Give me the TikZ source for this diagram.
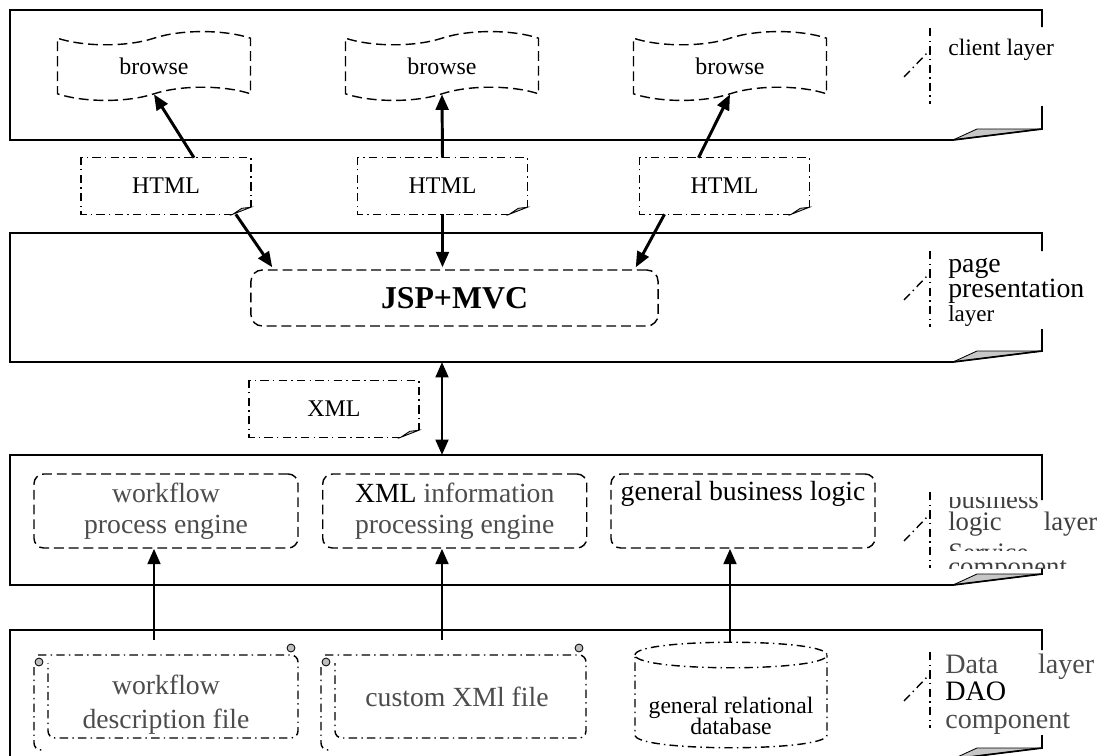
\documentclass[tikz,border=0pt]{standalone}
\usepackage{fontspec}
\setmainfont{Liberation Serif}
\usetikzlibrary{calc,arrows.meta,shapes.symbols}

\begin{document}
\begin{tikzpicture}[x=0.025cm, y=-0.025cm,
    layerline/.style={line width=1.2pt},
    foldfill/.style={fill=black!22, line width=0.6pt},
    dashedbox/.style={draw, line width=1pt, dash pattern=on 7pt off 3.5pt},
    dd/.style={line width=1pt, dash pattern=on 6pt off 3pt on 1pt off 3pt},
    browsebox/.style={tape, dashedbox, minimum width=4.825cm, minimum height=1.72cm,
      tape bend height=0.33cm, font=\fontsize{17}{19}\selectfont},
    notebox/.style={minimum width=4.225cm, minimum height=1.4cm, font=\fontsize{17}{19}\selectfont},
    enginebox/.style={dashedbox, rounded corners=7pt, minimum width=6.6cm, minimum height=1.85cm,
      align=center, font=\fontsize{19.7}{22}\selectfont},
    filetext/.style={align=center, font=\fontsize{19.7}{24}\selectfont, text=black!70},
    flow/.style={line width=2.1pt, -{Triangle[length=11pt,width=9pt]}},
    curl/.style={fill=black!25, draw, line width=0.6pt},
    lbl/.style={anchor=base west, inner sep=0pt},
  ]
  \useasboundingbox (0,0) rectangle (1105,756);
  \clip (0,0) rectangle (1105,756);

  % layers with the folded corner
  \foreach \yt/\yb/\ga/\gb in {10/140/27/106, 233/362/251/329, 455/585/500/568, 630/759/650/735}{
    \filldraw[foldfill] (953,\yb) -- (977,\yb-11) -- (1042,\yb-11) -- cycle;
    \draw[layerline] (1042,\ga) -- (1042,\yt) -- (10,\yt) -- (10,\yb) -- (953,\yb) -- (1042,\yb-11) -- (1042,\gb);
  }
  % callout brackets
  \foreach \m in {66,289,530,690}{
    \draw[dd] (930,\m-38) -- (930,\m+38);
    \draw[dd] (904,\m+11) -- (930,\m-16);
  }

  % client layer
  \node[browsebox] (b1) at (154,66) {browse};
  \node[browsebox] (b2) at (442,66) {browse};
  \node[browsebox] (b3) at (730,66) {browse};
  \node[lbl, font=\fontsize{16.8}{19}\selectfont] (lclient) at (948,55) {client layer};

  % messages
  \node[notebox] (h1) at (166,186) {HTML};
  \node[notebox] (h2) at (442.5,186) {HTML};
  \node[notebox] (h3) at (724.5,186) {HTML};
  \node[notebox] (xmsg) at (334,409) {XML};
  \foreach \n in {h1,h2,h3,xmsg}{
    \draw[dd] ($(\n.south east)+(-18,0)$) -- (\n.south west) -- (\n.north west) -- (\n.north east) -- ($(\n.south east)+(0,-7)$);
    \filldraw[curl] ($(\n.south east)+(-18,0)$) -- ($(\n.south east)+(-9,-6)$) -- ($(\n.south east)+(0,-7)$) -- cycle;
  }

  % page presentation layer
  \node[dashedbox, rounded corners=8pt, minimum width=10.175cm, minimum height=1.4cm,
    font=\fontsize{22.6}{26}\selectfont\bfseries] (jsp) at (454.5,298) {JSP+MVC};
  \node[lbl, text width=4cm, align=left, font=\fontsize{19.8}{16.7}\selectfont] (lpage) at (948,272)
    {page\\presentation\\{\fontsize{16.4}{16.7}\selectfont layer}};

  % business logic layer
  \node[enginebox, text=black!70] (wpe) at (166,511) {workflow\\process engine};
  \node[enginebox, text=black!70] (xpe) at (454.75,511) {\textcolor{black}{XML} information\\processing engine};
  \node[enginebox] (gbl) at (743,511) {general business logic\\\strut};
  \begin{scope}
    \clip (944,497) rectangle (1105,550);
    \node[lbl, text width=3.725cm, align=left, font=\fontsize{19}{15.65}\selectfont, text=black!75] (lbiz) at (948,508)
      {business\\logic\hfill layer\\[5pt]Service};
  \end{scope}
  \begin{scope}
    \clip (944,556) rectangle (1105,568);
    \node[lbl, font=\fontsize{19}{22}\selectfont, text=black!75] (lcomp) at (948,575) {component};
  \end{scope}

  % data layer
  \node[filetext] (wfd) at (166,705) {workflow\\description file};
  \node[filetext] (cxf) at (457,697) {custom XMl file};
  \foreach \xa/\xb in {48/298, 335/586}{
    \draw[dd, rounded corners=5pt] (\xa-10,655) -- (\xb,655) -- (\xb,738) -- (\xa,738) -- (\xa,663);
    \draw[dd, rounded corners=5pt] (\xa-14,667) -- (\xa-14,750) -- (\xa-3,750);
    \filldraw[curl] (\xb-7,648) circle (2.8pt);
    \filldraw[curl] (\xa-9,662) circle (2.8pt);
  }
  \draw[dd] (635,655) .. controls (635,638) and (827,638) .. (827,655)
    .. controls (827,672) and (635,672) .. (635,655) -- (635,735)
    .. controls (635,752) and (827,752) .. (827,735) -- (827,655);
  \node[align=center, font=\fontsize{16.8}{15.4}\selectfont] (grdb) at (731,716) {general relational\\database};
  \begin{scope}
    \clip (944,640) rectangle (1105,733);
    \node[lbl, text width=3.725cm, align=left, font=\fontsize{20}{19.6}\selectfont, text=black!70] (ldata) at (945,673)
      {Data\hfill layer\\\textcolor{black}{DAO}\\component};
  \end{scope}

  % connectors
  \coordinate (presbot) at (442,362);
  \coordinate (biztop) at (442,455);
  \coordinate (wfdtop) at (154,640);
  \coordinate (cxftop) at (442,640);
  \coordinate (grdbtop) at (730,642);
  \draw[flow] ($(h1.north)+(28,0)$) -- (b1.south);
  \draw[flow] (h2.north) -- (b2.south);
  \draw[flow] ($(h3.north)+(-26,0)$) -- (b3.south);
  \draw[flow] ($(h1.south east)+(-15,0)$) -- ($(jsp.north west)+(22,-2)$);
  \draw[flow] (h2.south) -- ($(h2.south |- jsp.north)+(0,-2)$);
  \draw[flow] ($(h3.south)+(-60,0)$) -- ($(jsp.north east)+(-23,-2)$);
  \draw[flow, {Triangle[length=11pt,width=9pt]}-{Triangle[length=11pt,width=9pt]}] (presbot) -- (biztop);
  \draw[flow] (wfdtop) -- (wfdtop |- wpe.south);
  \draw[flow] (cxftop) -- (cxftop |- xpe.south);
  \draw[flow] (grdbtop) -- (grdbtop |- gbl.south);
\end{tikzpicture}
\end{document}
